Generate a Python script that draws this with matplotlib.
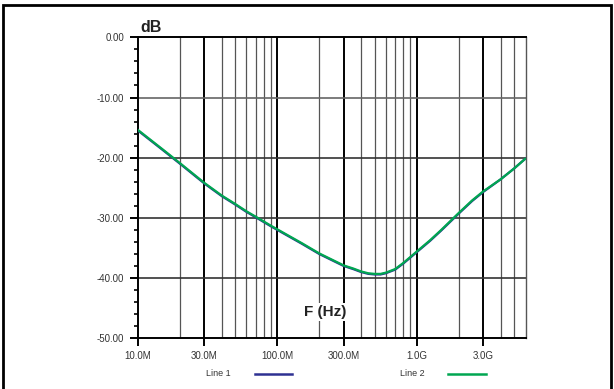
import matplotlib.pyplot as plt
from matplotlib.patches import Rectangle
from matplotlib.ticker import FixedLocator, NullFormatter

plt.rcParams['font.family'] = ['Liberation Sans', 'DejaVu Sans']

# frequency points (Hz) and attenuation (dB)
freq = [10e6, 15e6, 20e6, 30e6, 40e6, 50e6, 60e6, 70e6, 80e6, 90e6, 100e6, 150e6,
        200e6, 300e6, 350e6, 400e6, 450e6, 500e6, 550e6, 600e6, 700e6, 800e6, 900e6,
        1e9, 1.25e9, 1.5e9, 2e9, 2.5e9, 3e9, 4e9, 5e9, 6e9]
line1 = [-15.5, -18.7, -21.0, -24.3, -26.4, -27.8, -29.0, -29.9, -30.7, -31.4, -32.0, -34.3,
         -36.0, -38.0, -38.5, -39.0, -39.3, -39.4, -39.4, -39.2, -38.6, -37.6, -36.6,
         -35.7, -33.8, -32.1, -29.3, -27.2, -25.7, -23.6, -21.8, -20.2]
line2 = [-15.4, -18.6, -20.9, -24.2, -26.3, -27.7, -28.9, -29.8, -30.6, -31.3, -31.9, -34.2,
         -35.9, -37.9, -38.4, -38.9, -39.2, -39.3, -39.3, -39.1, -38.5, -37.5, -36.5,
         -35.6, -33.7, -32.0, -29.2, -27.1, -25.6, -23.6, -21.8, -20.2]

major_f = [30e6, 100e6, 300e6, 1e9, 3e9]
major_lbl = ['30.0M', '100.0M', '300.0M', '1.0G', '3.0G']
minor_f = [20e6, 40e6, 50e6, 60e6, 70e6, 80e6, 90e6,
           200e6, 400e6, 500e6, 600e6, 700e6, 800e6, 900e6,
           2e9, 4e9, 5e9]

fig = plt.figure(figsize=(6.14, 3.89), dpi=100)
ax = fig.add_axes([138 / 614, (389 - 338.3) / 389, (525.6 - 138) / 614, (338.3 - 37.3) / 389])

# outer frame
fig.patches.append(Rectangle((3 / 614, -0.05), 608 / 614, (389 - 5) / 389 + 0.05,
                             transform=fig.transFigure, fill=False, edgecolor='black',
                             linewidth=2, clip_on=False))

ax.set_xscale('log')
ax.set_xlim(10e6, 6.05e9)
ax.set_ylim(-50, 0)

# grid
for f in minor_f:
    ax.axvline(f, color='#555555', linewidth=0.9, zorder=1)
for f in major_f:
    ax.axvline(f, color='black', linewidth=1.4, zorder=1)
for y in [-10, -20, -30, -40]:
    ax.axhline(y, color='#333333' if y != -10 else '#666666', linewidth=1.2, zorder=1)

ax.plot(freq, line1, color='#2e3192', linewidth=1.6, zorder=3)
ax.plot(freq, line2, color='#00a651', linewidth=1.6, zorder=4)

ax.xaxis.set_major_locator(FixedLocator([10e6] + major_f))
ax.set_xticklabels(['10.0M'] + major_lbl)
ax.xaxis.set_minor_locator(FixedLocator([]))
ax.xaxis.set_minor_formatter(NullFormatter())
ax.set_yticks([0, -10, -20, -30, -40, -50])
ax.set_yticklabels(['0.00', '-10.00', '-20.00', '-30.00', '-40.00', '-50.00'])
ax.yaxis.set_minor_locator(FixedLocator([y for y in range(-48, 0, 2) if y % 10 != 0]))

ax.tick_params(axis='both', which='major', direction='out', length=6, width=1.4,
               labelsize=7, labelcolor='#333333', color='black')
ax.tick_params(axis='y', which='minor', direction='out', length=3, width=1.2, color='black')
ax.tick_params(axis='x', pad=3)
ax.tick_params(axis='y', pad=4)

for side in ['left', 'bottom', 'top']:
    ax.spines[side].set_linewidth(1.4)
    ax.spines[side].set_color('black')
ax.spines['right'].set_linewidth(1.0)
ax.spines['right'].set_color('#555555')

ax.text(0.005, 1.008, 'dB', transform=ax.transAxes, fontsize=11.5, fontweight='bold',
        ha='left', va='bottom', color='#222222')
fig.text(325 / 614, (389 - 312) / 389, 'F (Hz)', fontsize=11, fontweight='bold',
         ha='center', va='center', color='#222222', zorder=5,
         bbox=dict(facecolor='white', edgecolor='none', pad=1.5))

# legend drawn as text + short lines
fig.text(218 / 614, (389 - 374) / 389, 'Line 1', fontsize=6.5, color='#333333', ha='center', va='center')
fig.text(412 / 614, (389 - 374) / 389, 'Line 2', fontsize=6.5, color='#333333', ha='center', va='center')
fig.add_artist(plt.Line2D([255 / 614, 292 / 614], [(389 - 374) / 389] * 2, color='#2e3192', linewidth=1.8))
fig.add_artist(plt.Line2D([448 / 614, 486 / 614], [(389 - 374) / 389] * 2, color='#00a651', linewidth=1.8))

fig.savefig('out.png', dpi=100)
